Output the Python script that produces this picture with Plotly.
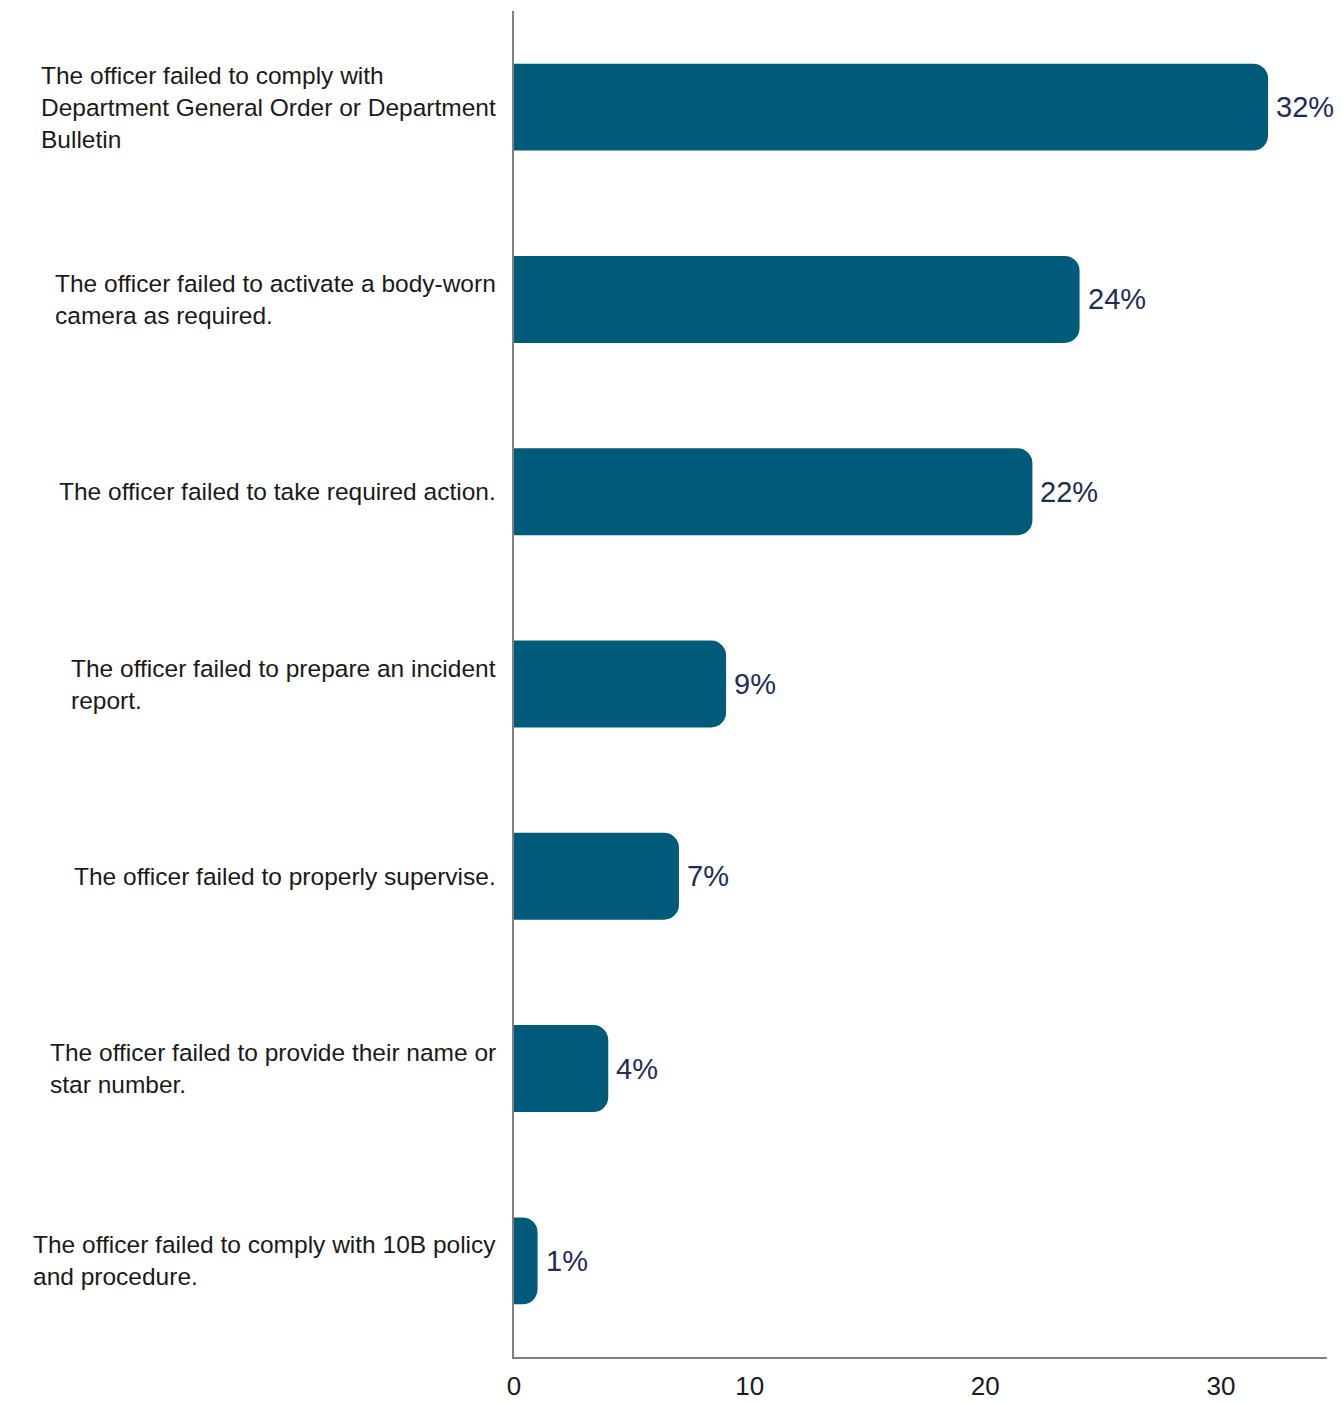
import plotly.graph_objects as go

# Reasons for sustained findings, share of cases (%)
categories = [
    "The officer failed to comply with<br>Department General Order or Department<br>Bulletin",
    "The officer failed to activate a body-worn<br>camera as required.",
    "The officer failed to take required action.",
    "The officer failed to prepare an incident<br>report.",
    "The officer failed to properly supervise.",
    "The officer failed to provide their name or<br>star number.",
    "The officer failed to comply with 10B policy<br>and procedure.",
]
values = [32, 24, 22, 9, 7, 4, 1]
x_ticks = [0, 10, 20, 30]

BAR_COLOR = "#005a7a"
VALUE_COLOR = "#1f2b57"
TEXT_COLOR = "#1a1a1a"
AXIS_COLOR = "#808080"
FONT = "Liberation Sans, Arial, sans-serif"

fig = go.Figure(
    go.Bar(
        x=values,
        y=categories,
        orientation="h",
        marker=dict(color=BAR_COLOR, line=dict(width=0)),
        hoverinfo="skip",
    )
)

annotations = []
# category labels: block right-aligned to the axis, lines left-aligned
for cat in categories:
    annotations.append(dict(
        x=0, xref="paper", y=cat, yref="y",
        text=cat, showarrow=False,
        xanchor="right", yanchor="middle", align="left",
        xshift=-16,
        font=dict(family=FONT, size=24.5, color=TEXT_COLOR),
    ))
# value labels at the end of each bar
for cat, v in zip(categories, values):
    annotations.append(dict(
        x=v, xref="x", y=cat, yref="y",
        text=f"{v}%", showarrow=False,
        xanchor="left", yanchor="middle",
        xshift=6,
        font=dict(family=FONT, size=29, color=VALUE_COLOR),
    ))

fig.update_layout(
    width=1341,
    height=1402,
    margin=dict(l=514, r=14, t=11, b=45, pad=0),
    paper_bgcolor="white",
    plot_bgcolor="white",
    bargap=0.548,
    barcornerradius=15,
    showlegend=False,
    font=dict(family=FONT, color=TEXT_COLOR),
    annotations=annotations,
    xaxis=dict(
        range=[0, 34.5],
        tickvals=x_ticks,
        ticktext=[str(t) for t in x_ticks],
        showgrid=False,
        zeroline=False,
        showline=True,
        linecolor=AXIS_COLOR,
        linewidth=2,
        ticks="",
        ticklabelstandoff=5,
        tickfont=dict(family=FONT, size=26, color=TEXT_COLOR),
        automargin=False,
        fixedrange=True,
    ),
    yaxis=dict(
        categoryorder="array",
        categoryarray=categories,
        autorange="reversed",
        showticklabels=False,
        showgrid=False,
        zeroline=False,
        showline=True,
        linecolor=AXIS_COLOR,
        linewidth=2,
        ticks="",
        automargin=False,
        fixedrange=True,
    ),
)

fig.write_html("out.html")
